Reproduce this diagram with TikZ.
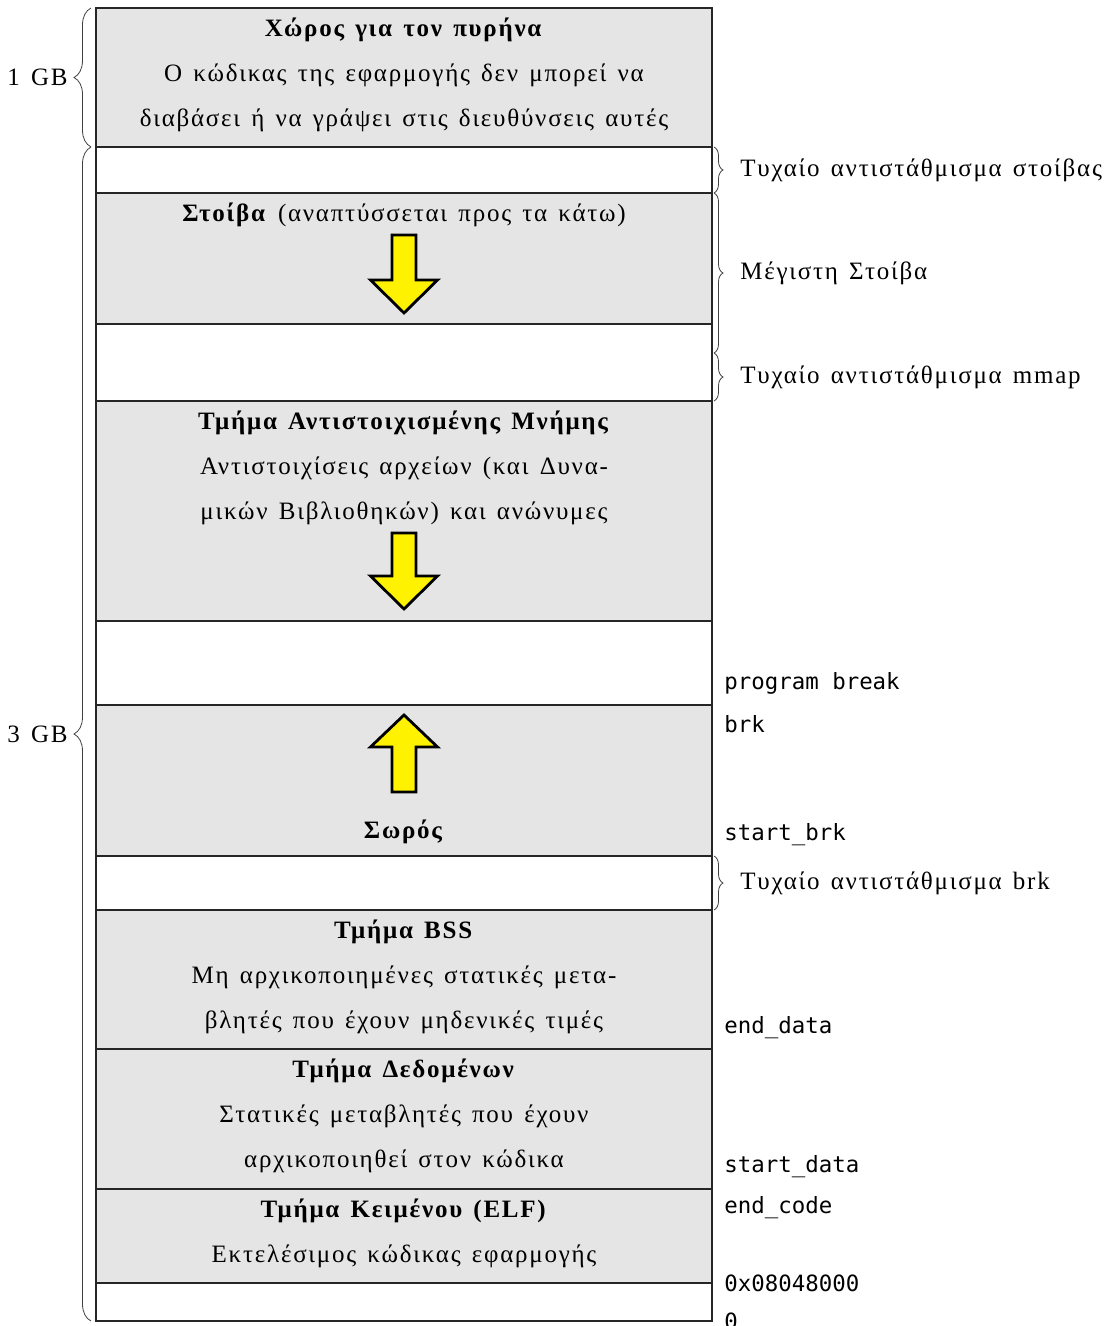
\documentclass[tikz,border=0pt]{standalone}
\usepackage{fontspec}
\setmainfont[LetterSpace=7,WordSpace=1.4]{Liberation Serif}
\setmonofont{DejaVu Sans Mono}
\usetikzlibrary{positioning,decorations.pathreplacing}

\begin{document}
\begin{tikzpicture}[
      x=0.5pt, y=-0.5pt,
      seg/.style={draw=black!85, line width=0.9pt, minimum width=308pt, inner sep=0pt, outer sep=0pt},
      used/.style={seg, fill=gray!20},
      free/.style={seg, fill=white},
      segtext/.style={align=center, inner sep=0pt, font=\fontsize{12.5}{22.5}\selectfont},
      addr/.style={anchor=west, inner sep=0pt, font=\ttfamily\fontsize{11.2}{13}\selectfont},
      rbrace/.style={decorate, decoration={brace, amplitude=4.5pt}, draw=black!75},
      lbrace/.style={decorate, decoration={brace, amplitude=8.5pt}, draw=black!75},
      sidetext/.style={inner sep=0pt, font=\fontsize{12.5}{14}\selectfont},
      growarrow/.style={draw=black, line width=1.4pt, fill=yellow, line join=miter}
    ]
    \useasboundingbox (0,0) rectangle (1104,1326);

    % segments, from the high addresses down
    \node[used, minimum height=69.5pt, anchor=north west] (kernel) at (96,8) {};
    \node[free, minimum height=23pt, below=0pt of kernel] (stackgap) {};
    \node[used, minimum height=65.5pt, below=0pt of stackgap] (stack) {};
    \node[free, minimum height=38.5pt, below=0pt of stack] (mmapgap) {};
    \node[used, minimum height=110pt, below=0pt of mmapgap] (mmap) {};
    \node[free, minimum height=42pt, below=0pt of mmap] (hole) {};
    \node[used, minimum height=75.5pt, below=0pt of hole] (heap) {};
    \node[free, minimum height=27pt, below=0pt of heap] (brkgap) {};
    \node[used, minimum height=69.5pt, below=0pt of brkgap] (bss) {};
    \node[used, minimum height=70pt, below=0pt of bss] (data) {};
    \node[used, minimum height=47pt, below=0pt of data] (code) {};
    \node[free, minimum height=19pt, below=0pt of code] (low) {};

    % texts in the segments
    \node[segtext, below=5pt of kernel.north] (kerneltxt) {\textbf{Χώρος για τον πυρήνα}\\
      Ο κώδικας της εφαρμογής δεν μπορεί να\\
      διαβάσει ή να γράψει στις διευθύνσεις αυτές};
    \node[segtext, below=5pt of stack.north] (stacktxt) {\textbf{Στοίβα} (αναπτύσσεται προς τα κάτω)};
    \node[segtext, below=5pt of mmap.north] (mmaptxt) {\textbf{Τμήμα Αντιστοιχισμένης Μνήμης}\\
      Αντιστοιχίσεις αρχείων (και Δυνα-\\
      μικών Βιβλιοθηκών) και ανώνυμες};
    \node[segtext, anchor=base] (heaptxt) at ([yshift=9pt]heap.south) {\textbf{Σωρός}};
    \node[segtext, below=5pt of bss.north] (bsstxt) {\textbf{Τμήμα BSS}\\
      Μη αρχικοποιημένες στατικές μετα-\\
      βλητές που έχουν μηδενικές τιμές};
    \node[segtext, below=5pt of data.north] (datatxt) {\textbf{Τμήμα Δεδομένων}\\
      Στατικές μεταβλητές που έχουν\\
      αρχικοποιηθεί στον κώδικα};
    \node[segtext, below=5pt of code.north] (codetxt) {\textbf{Τμήμα Κειμένου (ELF)}\\
      Εκτελέσιμος κώδικας εφαρμογής};

    % growth arrows
    \coordinate (stacktip) at (404,313);
    \coordinate (mmaptip) at (404,609);
    \coordinate (heaptip) at (404,715);
    \draw[growarrow] (stacktip) -- ++(33.5,-33) -- ++(-21.5,0) -- ++(0,-45) -- ++(-24,0)
      -- ++(0,45) -- ++(-21.5,0) -- cycle;
    \draw[growarrow] (mmaptip) -- ++(33.5,-33) -- ++(-21.5,0) -- ++(0,-43) -- ++(-24,0)
      -- ++(0,43) -- ++(-21.5,0) -- cycle;
    \draw[growarrow] (heaptip) -- ++(33.5,32) -- ++(-21.5,0) -- ++(0,45) -- ++(-24,0)
      -- ++(0,-45) -- ++(-21.5,0) -- cycle;

    % addresses
    \node[addr] (progbrk) at ([xshift=6pt, yshift=11pt]heap.north east) {program break};
    \node[addr] (brk) at ([xshift=6pt, yshift=-9.5pt]heap.north east) {brk};
    \node[addr] (startbrk) at ([xshift=6pt, yshift=10.5pt]heap.south east) {start\_brk};
    \node[addr] (enddata) at ([xshift=6pt, yshift=10.5pt]bss.south east) {end\_data};
    \node[addr] (startdata) at ([xshift=6pt, yshift=11pt]data.south east) {start\_data};
    \node[addr] (endcode) at ([xshift=6pt, yshift=-9.5pt]data.south east) {end\_code};
    \node[addr] (codestart) at ([xshift=6pt]code.south east) {0x08048000};
    \node[addr] (zero) at ([xshift=6pt]low.south east) {0};

    % braces on the right
    \coordinate (maxstack) at ([xshift=1pt, yshift=-14.5pt]mmapgap.north east);
    \draw[rbrace] ([xshift=1pt]stackgap.north east) -- node[sidetext, midway, right=13pt] (stackoff) {Τυχαίο αντιστάθμισμα στοίβας} ([xshift=1pt]stackgap.south east);
    \draw[rbrace] ([xshift=1pt]stack.north east) -- node[sidetext, midway, right=13pt] (stackmax) {Μέγιστη Στοίβα} (maxstack);
    \draw[rbrace] (maxstack) -- node[sidetext, midway, right=13pt] (mmapoff) {Τυχαίο αντιστάθμισμα mmap} ([xshift=1pt]mmapgap.south east);
    \draw[rbrace] ([xshift=1pt]brkgap.north east) -- node[sidetext, midway, right=13pt] (brkoff) {Τυχαίο αντιστάθμισμα brk} ([xshift=1pt]brkgap.south east);

    % braces on the left
    \draw[lbrace] ([xshift=-2.5pt]kernel.south west) -- node[sidetext, midway, left=11.5pt] (kernelsize) {1 GB} ([xshift=-2.5pt]kernel.north west);
    \draw[lbrace] ([xshift=-2.5pt]low.south west) -- node[sidetext, midway, left=11.5pt] (usersize) {3 GB} ([xshift=-2.5pt]stackgap.north west);
  \end{tikzpicture}
\end{document}
